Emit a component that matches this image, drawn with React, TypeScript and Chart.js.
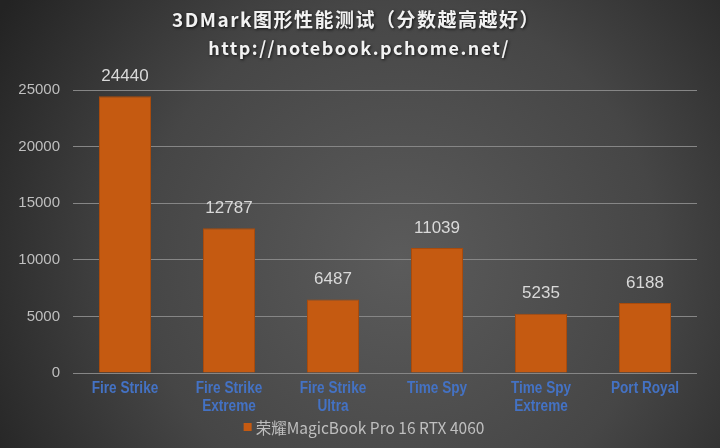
import React, { useEffect, useRef } from "react";
import { Chart, registerables } from "chart.js";

Chart.register(...registerables);

const titleLines = ["3DMark图形性能测试（分数越高越好）", "http://notebook.pchome.net/"];
const categories: (string | string[])[] = [
  "Fire Strike",
  ["Fire Strike", "Extreme"],
  ["Fire Strike", "Ultra"],
  "Time Spy",
  ["Time Spy", "Extreme"],
  "Port Royal",
];
const seriesName = "荣耀MagicBook Pro 16 RTX 4060";
const seriesValues = [24440, 12787, 6487, 11039, 5235, 6188];
const yMin = 0;
const yMax = 25000;
const yStep = 5000;

const BAR_COLOR = "#C55A11";

const decorPlugin = {
  id: "decor",
  beforeDraw(chart: any) {
    const { ctx, width, height } = chart;
    ctx.save();
    const g = ctx.createRadialGradient(400, 260, 0, 400, 260, 470);
    g.addColorStop(0, "#5b5b5b");
    g.addColorStop(0.55, "#464646");
    g.addColorStop(1, "#232323");
    ctx.fillStyle = g;
    ctx.fillRect(0, 0, width, height);
    ctx.restore();
  },
  afterDatasetsDraw(chart: any) {
    const { ctx } = chart;
    const meta = chart.getDatasetMeta(0);
    const data = chart.data.datasets[0].data;
    ctx.save();
    ctx.font = '17px "Liberation Sans", Arial, sans-serif';
    ctx.fillStyle = "#d9d9d9";
    ctx.textAlign = "center";
    ctx.textBaseline = "middle";
    meta.data.forEach((bar: any, i: number) => {
      ctx.fillText(String(data[i]), bar.x, bar.y - 20);
    });
    ctx.restore();
  },
  afterDraw(chart: any) {
    const { ctx } = chart;
    // x category labels (condensed bold)
    const xs = chart.scales.x;
    ctx.save();
    ctx.fillStyle = "#4472C4";
    ctx.textAlign = "center";
    ctx.textBaseline = "top";
    ctx.font = 'bold 16px "Liberation Sans", Arial, sans-serif';
    const labels = chart.data.labels as (string | string[])[];
    labels.forEach((lab, i) => {
      const lines = Array.isArray(lab) ? lab : [lab];
      const px = xs.getPixelForValue(i);
      lines.forEach((ln, j) => {
        ctx.save();
        ctx.translate(px, chart.chartArea.bottom + 8 + j * 18);
        ctx.scale(0.85, 1);
        ctx.fillText(ln, 0, 0);
        ctx.restore();
      });
    });
    ctx.restore();

    // title
    ctx.save();
    ctx.fillStyle = "#f2f2f2";
    ctx.textAlign = "center";
    ctx.textBaseline = "middle";
    ctx.shadowColor = "rgba(0,0,0,0.75)";
    ctx.shadowBlur = 3;
    ctx.shadowOffsetX = 1;
    ctx.shadowOffsetY = 1;
    ctx.font = 'bold 19px "Noto Sans CJK SC", sans-serif';
    (ctx as any).letterSpacing = "1.5px";
    ctx.fillText(titleLines[0], 356, 20);
    ctx.font = 'bold 18px "Noto Sans CJK SC", sans-serif';
    (ctx as any).letterSpacing = "1.45px";
    ctx.fillText(titleLines[1], 359, 48);
    ctx.restore();

    // legend
    ctx.save();
    const ds = chart.data.datasets[0];
    ctx.font = '15.5px "Noto Sans CJK SC", sans-serif';
    ctx.textBaseline = "middle";
    const tw = ctx.measureText(ds.label).width;
    const box = 8;
    const gap = 4;
    const total = box + gap + tw;
    const cx = 364;
    const startX = cx - total / 2;
    const y = 427;
    ctx.fillStyle = ds.backgroundColor;
    ctx.fillRect(startX, y - box / 2, box, box);
    ctx.fillStyle = "#bfbfbf";
    ctx.textAlign = "left";
    ctx.fillText(ds.label, startX + box + gap, y + 1);
    ctx.restore();
  },
};

export default function App() {
  const ref = useRef<HTMLCanvasElement | null>(null);
  useEffect(() => {
    if (!ref.current) return;
    const chart = new Chart(ref.current, {
      type: "bar",
      data: {
        labels: categories,
        datasets: [
          {
            label: seriesName,
            data: seriesValues,
            backgroundColor: BAR_COLOR,
            borderColor: "#a94b0c",
            borderWidth: 1,
            categoryPercentage: 1,
            barPercentage: 0.5,
          },
        ],
      },
      options: {
        animation: false,
        responsive: false,
        maintainAspectRatio: false,
        layout: { padding: { top: 90, right: 23, left: 0, bottom: 0 } },
        plugins: {
          legend: { display: false },
          title: { display: false },
          tooltip: { enabled: false },
        },
        scales: {
          x: {
            grid: { display: false, drawTicks: false },
            border: { display: false },
            ticks: { display: false },
            afterFit(scale: any) {
              scale.height = 75;
            },
          },
          y: {
            min: yMin,
            max: yMax,
            grid: { color: "#868686", lineWidth: 1, drawTicks: false },
            border: { display: false },
            ticks: {
              stepSize: yStep,
              color: "#bfbfbf",
              padding: 13,
              font: { family: '"Liberation Sans", Arial, sans-serif', size: 15 },
              callback: (v: any) => String(v),
            },
            afterFit(scale: any) {
              scale.width = 73;
            },
          },
        },
      },
      plugins: [decorPlugin],
    });
    return () => chart.destroy();
  }, []);
  return (
    <div style={{ position: "fixed", left: 0, top: 0, width: 720, height: 448 }}>
      <canvas ref={ref} width={720} height={448} style={{ display: "block", width: 720, height: 448 }} />
    </div>
  );
}
